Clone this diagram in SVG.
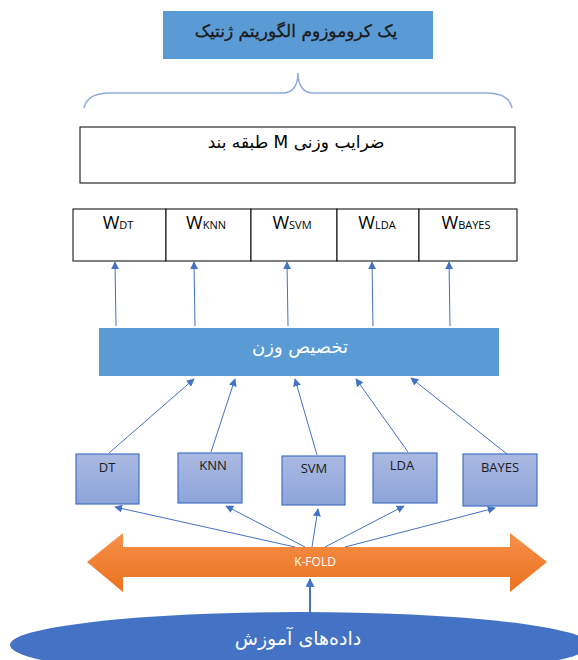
<svg xmlns="http://www.w3.org/2000/svg" width="578" height="660" viewBox="0 0 578 660">
<defs>
<style>
.ar{font-family:"DejaVu Sans",sans-serif;}
.lat{font-family:"Open Sans","Liberation Sans",sans-serif;}
.cl{fill:url(#gClf);stroke:#4472C4;stroke-width:1.2;}
.wb{fill:#fff;stroke:#000;stroke-width:1;}
.cn{stroke:#4472C4;stroke-width:1;fill:none;marker-end:url(#ah);}
</style>
<marker id="ah" viewBox="0 0 10 10" refX="9" refY="5" markerWidth="8" markerHeight="8" markerUnits="userSpaceOnUse" orient="auto">
<path d="M0,0 L10,5 L0,10 z" fill="#4472C4"/>
</marker>
<marker id="ah2" viewBox="0 0 10 10" refX="9" refY="5" markerWidth="9" markerHeight="9" markerUnits="userSpaceOnUse" orient="auto">
<path d="M0,0 L10,5 L0,10 z" fill="#4472C4"/>
</marker>
<linearGradient id="gClf" x1="0" y1="0" x2="0" y2="1">
<stop offset="0" stop-color="#AAB9E2"/>
<stop offset="1" stop-color="#8DA4D9"/>
</linearGradient>
<linearGradient id="gOr" x1="0" y1="0" x2="0" y2="1">
<stop offset="0" stop-color="#F5904A"/>
<stop offset="1" stop-color="#EC711E"/>
</linearGradient>
</defs>

<g id="chromosome">
<rect x="163" y="11" width="270" height="48" fill="#5B9BD5"/>
<text class="ar" x="296" y="37" font-size="17" fill="#1a1a1a" stroke="#1a1a1a" stroke-width="0.3" text-anchor="middle" direction="rtl">یک کروموزوم الگوریتم ژنتیک</text>
</g>

<g id="brace">
<path d="M84,108 C86,98 95,93 110,93 L283,93 C293,93 298,85 298,73 C298,85 303,93 313,93 L486,93 C501,93 510,98 512,108" fill="none" stroke="#8FAADC" stroke-width="1.5"/>
</g>

<g id="weights-title">
<rect class="wb" x="80" y="127" width="435" height="56"/>
<text class="ar" x="296" y="148" font-size="17" fill="#000" text-anchor="middle" direction="rtl">ضرایب وزنی M طبقه بند</text>
</g>

<g id="w-row">
<rect class="wb" x="73" y="209" width="93" height="52"/>
<rect class="wb" x="166" y="209" width="85" height="52"/>
<rect class="wb" x="251" y="209" width="86" height="52"/>
<rect class="wb" x="337" y="209" width="82" height="52"/>
<rect class="wb" x="419" y="209" width="98" height="52"/>
<text class="lat" x="118" y="229" font-size="18" fill="#000" text-anchor="middle">W<tspan font-size="11">DT</tspan></text>
<text class="lat" x="206" y="229" font-size="18" fill="#000" text-anchor="middle">W<tspan font-size="11">KNN</tspan></text>
<text class="lat" x="292" y="229" font-size="18" fill="#000" text-anchor="middle">W<tspan font-size="11">SVM</tspan></text>
<text class="lat" x="377" y="229" font-size="18" fill="#000" text-anchor="middle">W<tspan font-size="11">LDA</tspan></text>
<text class="lat" x="466" y="229" font-size="18" fill="#000" text-anchor="middle">W<tspan font-size="11">BAYES</tspan></text>
</g>

<g id="allocation">
<rect x="99" y="328" width="400" height="48" fill="#5B9BD5"/>
<text class="ar" x="300" y="353" font-size="18" fill="#fff" text-anchor="middle" direction="rtl">تخصیص وزن</text>
</g>

<g id="clf-DT">
<rect class="cl" x="76" y="454" width="63" height="50"/>
<text class="lat" x="107" y="472" font-size="13" fill="#1a1a1a" text-anchor="middle">DT</text>
</g>
<g id="clf-KNN">
<rect class="cl" x="178" y="453" width="64" height="50"/>
<text class="lat" x="213" y="470" font-size="13" fill="#1a1a1a" text-anchor="middle">KNN</text>
</g>
<g id="clf-SVM">
<rect class="cl" x="282" y="456" width="63" height="49"/>
<text class="lat" x="314" y="473" font-size="13" fill="#1a1a1a" text-anchor="middle">SVM</text>
</g>
<g id="clf-LDA">
<rect class="cl" x="373" y="453" width="64" height="50"/>
<text class="lat" x="402" y="470" font-size="13" fill="#1a1a1a" text-anchor="middle">LDA</text>
</g>
<g id="clf-BAYES">
<rect class="cl" x="463" y="454" width="74" height="52"/>
<text class="lat" x="500" y="472" font-size="13" fill="#1a1a1a" text-anchor="middle">BAYES</text>
</g>

<g id="kfold">
<path d="M87,562 L123,533 L123,547 L510,547 L510,533 L547,562 L510,592 L510,577 L123,577 L123,592 Z" fill="url(#gOr)"/>
<text class="lat" x="315" y="566" font-size="12" fill="#fff" text-anchor="middle">K-FOLD</text>
</g>

<g id="training-data">
<ellipse cx="300" cy="645" rx="290" ry="33" fill="#4472C4"/>
<text class="ar" x="298" y="645" font-size="19" fill="#fff" text-anchor="middle" direction="rtl">داده‌های آموزش</text>
</g>

<g id="connectors">
<line class="cn" x1="116" y1="326" x2="115" y2="262"/>
<line class="cn" x1="195" y1="326" x2="194" y2="262"/>
<line class="cn" x1="288" y1="326" x2="287" y2="262"/>
<line class="cn" x1="373" y1="326" x2="372" y2="262"/>
<line class="cn" x1="450" y1="326" x2="449" y2="262"/>

<line class="cn" x1="109" y1="453" x2="194" y2="379"/>
<line class="cn" x1="211" y1="452" x2="235" y2="379"/>
<line class="cn" x1="317" y1="455" x2="295" y2="379"/>
<line class="cn" x1="408" y1="452" x2="356" y2="379"/>
<line class="cn" x1="507" y1="454" x2="411" y2="378"/>

<line class="cn" x1="295" y1="547" x2="115" y2="507"/>
<line class="cn" x1="305" y1="547" x2="226" y2="506"/>
<line class="cn" x1="312" y1="547" x2="318" y2="509"/>
<line class="cn" x1="325" y1="547" x2="404" y2="506"/>
<line class="cn" x1="345" y1="547" x2="495" y2="508"/>

<line x1="310" y1="613" x2="310" y2="579" stroke="#4472C4" stroke-width="2" marker-end="url(#ah2)"/>
</g>
</svg>
